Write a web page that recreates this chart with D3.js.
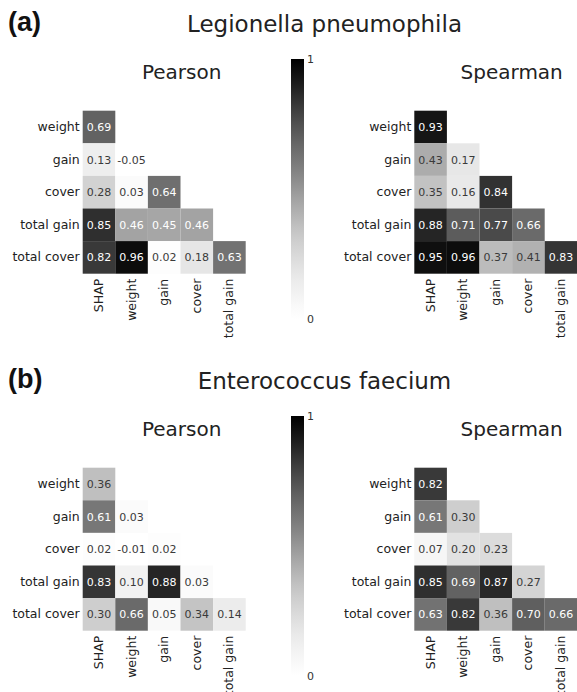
<!DOCTYPE html>
<html>
<head>
<meta charset="utf-8">
<script src="https://cdn.jsdelivr.net/npm/d3@7"></script>
<style>
  body { margin: 0; background: #fff; }
  svg { display: block; font-family: "DejaVu Sans", sans-serif; }
</style>
</head>
<body>
<svg id="chart" width="577" height="692"></svg>
<script>
// row / column labels of the lower-triangle correlation matrices
const rowLabels = ['weight', 'gain', 'cover', 'total gain', 'total cover'];
const colLabels = ['SHAP', 'weight', 'gain', 'cover', 'total gain'];

// (a) Legionella pneumophila
const legionellaPearson = [
  [0.69],
  [0.13, -0.05],
  [0.28, 0.03, 0.64],
  [0.85, 0.46, 0.45, 0.46],
  [0.82, 0.96, 0.02, 0.18, 0.63]
];
const legionellaSpearman = [
  [0.93],
  [0.43, 0.17],
  [0.35, 0.16, 0.84],
  [0.88, 0.71, 0.77, 0.66],
  [0.95, 0.96, 0.37, 0.41, 0.83]
];

// (b) Enterococcus faecium
const enterococcusPearson = [
  [0.36],
  [0.61, 0.03],
  [0.02, -0.01, 0.02],
  [0.83, 0.10, 0.88, 0.03],
  [0.30, 0.66, 0.05, 0.34, 0.14]
];
const enterococcusSpearman = [
  [0.82],
  [0.61, 0.30],
  [0.07, 0.20, 0.23],
  [0.85, 0.69, 0.87, 0.27],
  [0.63, 0.82, 0.36, 0.70, 0.66]
];

const panelLetters = ['(a)', '(b)'];
const panelTitles = ['Legionella pneumophila', 'Enterococcus faecium'];
const methodTitles = ['Pearson', 'Spearman'];
const colorbarTicks = [0, 1];

const svg = d3.select('#chart');
const color = d3.scaleSequential(d3.interpolateGreys).domain([0, 1]).clamp(true);
const fmt = d3.formatLocale({ decimal: '.', thousands: ',', grouping: [3], currency: ['', ''], minus: '-' }).format('.2f');

// seaborn style annotation colour: white on dark cells
function textColor(v) {
  const c = d3.rgb(color(v));
  const lin = (u) => { u /= 255; return u <= 0.03928 ? u / 12.92 : Math.pow((u + 0.055) / 1.055, 2.4); };
  const lum = 0.2126 * lin(c.r) + 0.7152 * lin(c.g) + 0.0722 * lin(c.b);
  return lum > 0.408 ? '#3a3a3a' : '#ffffff';
}

// gradient for the colour bars
const grad = svg.append('defs').append('linearGradient')
  .attr('id', 'greys').attr('x1', 0).attr('y1', 1).attr('x2', 0).attr('y2', 0);
d3.range(0, 1.0001, 0.05).forEach((t) => {
  grad.append('stop').attr('offset', t).attr('stop-color', color(t));
});

const gridW = 163;
const gridXs = [82.7, 414.3];
const titleXs = [181.7, 511.7];

function drawHeatmap(parent, data, x0, top) {
  const g = parent.append('g');
  const x = d3.scaleBand().domain(colLabels).range([x0, x0 + gridW]);
  const y = d3.scaleBand().domain(rowLabels).range([top, top + gridW]);

  const cells = [];
  data.forEach((row, i) => row.forEach((v, j) => cells.push({ r: rowLabels[i], c: colLabels[j], v })));

  g.selectAll('rect.cell')
    .data(cells)
    .enter()
    .append('rect')
    .attr('class', 'cell')
    .attr('x', (d) => x(d.c))
    .attr('y', (d) => y(d.r))
    .attr('width', x.bandwidth())
    .attr('height', y.bandwidth())
    .attr('fill', (d) => color(d.v));

  g.selectAll('text.val')
    .data(cells)
    .enter()
    .append('text')
    .attr('class', 'val')
    .attr('x', (d) => x(d.c) + x.bandwidth() / 2)
    .attr('y', (d) => y(d.r) + y.bandwidth() / 2)
    .attr('text-anchor', 'middle')
    .attr('dy', '0.36em')
    .attr('font-size', 11)
    .attr('fill', (d) => textColor(d.v))
    .text((d) => fmt(d.v));

  // row labels
  g.append('g')
    .attr('transform', 'translate(' + x0 + ',0)')
    .call(d3.axisLeft(y).tickSize(0).tickPadding(3))
    .call((a) => a.select('.domain').remove())
    .selectAll('text')
    .attr('font-family', 'DejaVu Sans')
    .attr('font-size', 12.5)
    .attr('fill', '#222');

  // column labels, rotated
  g.append('g')
    .attr('transform', 'translate(0,' + (top + gridW) + ')')
    .call(d3.axisBottom(x).tickSize(0).tickPadding(0))
    .call((a) => a.select('.domain').remove())
    .selectAll('text')
    .attr('font-family', 'DejaVu Sans')
    .attr('font-size', 12.5)
    .attr('fill', '#222')
    .attr('text-anchor', 'end')
    .attr('dy', null)
    .attr('transform', 'translate(4,5)rotate(-90)');
}

const panels = [
  [legionellaPearson, legionellaSpearman],
  [enterococcusPearson, enterococcusSpearman]
];

panels.forEach((pair, p) => {
  const off = p * 357;
  const g = svg.append('g');

  g.append('text')
    .attr('x', 8)
    .attr('y', 31 + off)
    .attr('font-family', 'Liberation Sans, Arial, sans-serif')
    .attr('font-weight', 'bold')
    .attr('font-size', 27)
    .attr('fill', '#111')
    .text(panelLetters[p]);

  g.append('text')
    .attr('x', 324.5)
    .attr('y', 31.7 + off)
    .attr('text-anchor', 'middle')
    .attr('font-size', 23)
    .attr('fill', '#222')
    .text(panelTitles[p]);

  pair.forEach((data, m) => {
    g.append('text')
      .attr('x', titleXs[m])
      .attr('y', 79 + off)
      .attr('text-anchor', 'middle')
      .attr('font-size', 20)
      .attr('fill', '#222')
      .text(methodTitles[m]);
    drawHeatmap(g, data, gridXs[m], 110.7 + off);
  });

  // colour bar
  const cy = d3.scaleLinear().domain([0, 1]).range([319 + off, 59 + off]);
  g.append('rect')
    .attr('x', 291)
    .attr('y', cy(1))
    .attr('width', 13)
    .attr('height', cy(0) - cy(1))
    .attr('fill', 'url(#greys)');
  g.append('g')
    .attr('transform', 'translate(304,0)')
    .call(d3.axisRight(cy).tickValues(colorbarTicks).tickFormat(d3.format('d')).tickSize(0).tickPadding(3))
    .call((a) => a.select('.domain').remove())
    .selectAll('text')
    .attr('font-family', 'DejaVu Sans')
    .attr('font-size', 11)
    .attr('fill', '#333');
});
</script>
</body>
</html>
